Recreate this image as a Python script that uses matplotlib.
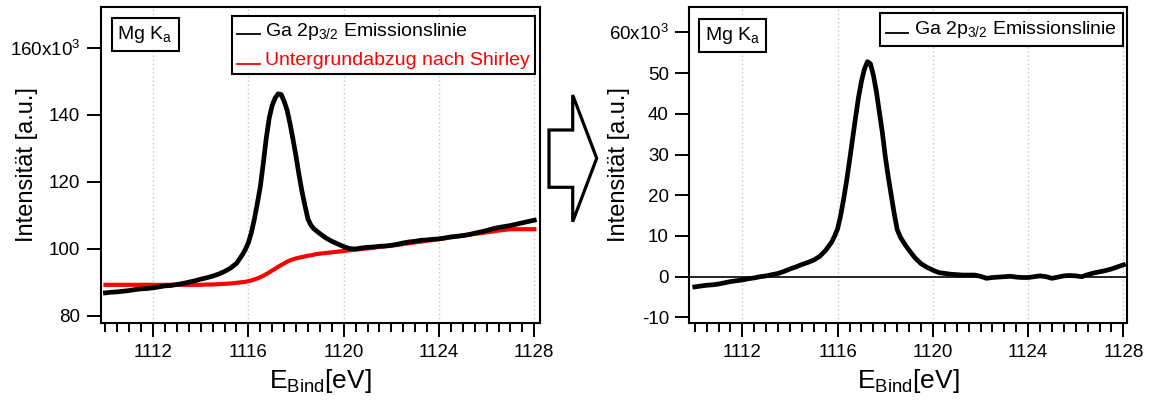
import matplotlib
matplotlib.use("Agg")
import matplotlib.pyplot as plt
from matplotlib.patches import Polygon
from matplotlib.lines import Line2D
from matplotlib.legend_handler import HandlerLine2D
from matplotlib.ticker import FixedLocator, MultipleLocator

plt.rcParams['font.family'] = ['Liberation Sans', 'DejaVu Sans']
plt.rcParams['mathtext.fontset'] = 'custom'
plt.rcParams['mathtext.rm'] = 'Liberation Sans'
plt.rcParams['mathtext.it'] = 'Liberation Sans:italic'
plt.rcParams['mathtext.bf'] = 'Liberation Sans:bold'

# ---------------- data ----------------
energy_eV = [
    1110.00, 1110.25, 1110.50, 1110.75, 1111.00, 1111.25, 1111.50, 1111.75,
    1112.00, 1112.25, 1112.50, 1112.75, 1113.00, 1113.25, 1113.50, 1113.75,
    1114.00, 1114.25, 1114.50, 1114.75, 1115.00, 1115.25, 1115.50, 1115.75,
    1115.875, 1116.00, 1116.125, 1116.25, 1116.375, 1116.50, 1116.625, 1116.75,
    1116.875, 1117.00, 1117.125, 1117.25, 1117.375, 1117.50, 1117.625, 1117.75,
    1117.875, 1118.00, 1118.125, 1118.25, 1118.375, 1118.50, 1118.625, 1118.75,
    1118.875, 1119.00, 1119.25, 1119.50, 1119.75,
    1120.00, 1120.25, 1120.50, 1120.75, 1121.00, 1121.25, 1121.50, 1121.75,
    1122.00, 1122.25, 1122.50, 1122.75, 1123.00, 1123.25, 1123.50, 1123.75,
    1124.00, 1124.25, 1124.50, 1124.75, 1125.00, 1125.25, 1125.50, 1125.75,
    1126.00, 1126.25, 1126.50, 1126.75, 1127.00, 1127.25, 1127.50, 1127.75,
    1128.00,
]

# raw Ga 2p3/2 emission line, intensity in 10^3 a.u.
raw_intensity = [
    86.8, 87.0, 87.1, 87.3, 87.5, 87.8, 88.0, 88.1,
    88.3, 88.6, 88.9, 89.0, 89.3, 89.6, 90.0, 90.4,
    90.9, 91.3, 91.8, 92.4, 93.2, 94.2, 95.6, 98.2,
    99.8, 101.8, 104.8, 108.8, 113.5, 118.5, 125.5, 133.0,
    139.0, 142.8, 145.0, 146.2, 146.0, 144.0, 141.3, 137.2,
    132.5, 127.5, 122.0, 117.0, 112.8, 108.8, 107.0, 105.9,
    105.2, 104.5, 103.2, 102.2, 101.4,
    100.6, 100.0, 99.9, 100.2, 100.4, 100.5, 100.7, 100.8,
    101.0, 101.3, 101.7, 102.0, 102.2, 102.5, 102.6, 102.8,
    102.9, 103.2, 103.5, 103.7, 103.9, 104.2, 104.6, 105.0,
    105.4, 105.9, 106.3, 106.6, 106.9, 107.3, 107.7, 108.1,
    108.5,
]

# Shirley background, intensity in 10^3 a.u.
shirley_background = [
    89.2, 89.2, 89.2, 89.2, 89.2, 89.2, 89.2, 89.2,
    89.2, 89.2, 89.2, 89.2, 89.2, 89.2, 89.2, 89.2,
    89.2, 89.3, 89.3, 89.4, 89.5, 89.6, 89.8, 90.0,
    90.1, 90.3, 90.5, 90.8, 91.1, 91.5, 91.9, 92.4,
    92.9, 93.5, 94.0, 94.6, 95.1, 95.6, 96.1, 96.5,
    96.8, 97.1, 97.3, 97.5, 97.7, 97.9, 98.0, 98.2,
    98.4, 98.5, 98.7, 98.9, 99.1,
    99.3, 99.5, 99.7, 99.9, 100.1, 100.3, 100.5, 100.7,
    100.9, 101.1, 101.4, 101.6, 101.9, 102.1, 102.4, 102.6,
    102.9, 103.1, 103.4, 103.6, 103.9, 104.1, 104.4, 104.6,
    104.9, 105.1, 105.4, 105.6, 105.8, 105.8, 105.8, 105.8,
    105.8,
]

# background-subtracted emission line, intensity in 10^3 a.u.
corrected_intensity = [
    -2.5, -2.3, -2.1, -2.0, -1.8, -1.5, -1.2, -1.0,
    -0.8, -0.5, -0.3, 0.0, 0.2, 0.5, 0.8, 1.3,
    1.9, 2.4, 3.0, 3.5, 4.1, 5.0, 6.5, 8.5,
    10.0, 11.8, 15.0, 19.0, 23.5, 28.5, 33.8, 39.0,
    44.0, 48.0, 51.0, 52.8, 52.3, 49.5, 45.5, 40.5,
    35.5, 29.5, 24.5, 20.0, 15.5, 11.6, 9.8, 8.6,
    7.5, 6.5, 4.6, 3.2, 2.3,
    1.6, 1.0, 0.8, 0.6, 0.5, 0.4, 0.4, 0.4,
    0.1, -0.4, -0.2, -0.1, 0.0, 0.1, -0.1, -0.2,
    -0.2, 0.0, 0.2, 0.0, -0.4, -0.1, 0.2, 0.3,
    0.2, 0.0, 0.5, 0.9, 1.2, 1.5, 1.9, 2.4,
    2.9,
]

x_ticks = [1112, 1116, 1120, 1124, 1128]
x_tick_labels = ['1112', '1116', '1120', '1124', '1128']
left_y_ticks = [80, 100, 120, 140, 160]
left_y_tick_labels = ['80', '100', '120', '140', r'160x10$^{3}$']
right_y_ticks = [-10, 0, 10, 20, 30, 40, 50, 60]
right_y_tick_labels = ['-10', '0', '10', '20', '30', '40', '50', r'60x10$^{3}$']

label_raw = r'Ga 2p$_{3/2}$ Emissionslinie'
label_bg = 'Untergrundabzug nach Shirley'
source_label = r'Mg K$_{\mathrm{a}}$'
x_label = r'E$_{\mathrm{Bind}}$[eV]'
y_label = 'Intensität [a.u.]'

# ---------------- figure ----------------
W, H = 1153, 403
fig = plt.figure(figsize=(W / 100, H / 100), dpi=100)


def px_rect(x0, y0, x1, y1):
    return [x0 / W, 1 - y1 / H, (x1 - x0) / W, (y1 - y0) / H]


ax1 = fig.add_axes(px_rect(100.7, 6.7, 540.0, 322.7))
ax2 = fig.add_axes(px_rect(689.3, 6.7, 1126.5, 322.7))

TICK_FS = 13.5
LEG_FS = 14


class BaselineHandler(HandlerLine2D):
    def create_artists(self, legend, orig_handle, xdescent, ydescent,
                       width, height, fontsize, trans):
        arts = super().create_artists(legend, orig_handle, xdescent, ydescent,
                                      width, height, fontsize, trans)
        for a in arts:
            if isinstance(a, Line2D):
                a.set_ydata([y - 0.38 * height for y in a.get_ydata()])
        return arts


def style_axes(ax, xlim, ylim, yticks, ylabels, ylab_x):
    ax.set_xlim(*xlim)
    ax.set_ylim(*ylim)
    ax.xaxis.set_major_locator(FixedLocator(x_ticks))
    ax.set_xticklabels(x_tick_labels)
    ax.xaxis.set_minor_locator(MultipleLocator(0.5))
    ax.set_yticks(yticks)
    ax.set_yticklabels(ylabels)
    ax.tick_params(axis='both', which='major', direction='out', length=10.4,
                   width=1.4, labelsize=TICK_FS, colors='black')
    ax.tick_params(axis='x', which='minor', direction='out', length=6.2, width=1.4)
    ax.tick_params(axis='y', which='major', pad=4.3)
    ax.tick_params(axis='x', which='major', pad=5)
    for s in ax.spines.values():
        s.set_linewidth(1.5)
        s.set_color('black')
    ax.set_axisbelow(True)
    ax.grid(axis='x', which='major', color='#c4c4c4', linestyle=(0, (1, 2)),
            linewidth=1.0)
    ax.set_xlabel(x_label, fontsize=19)
    ax.xaxis.label.set_verticalalignment('baseline')
    ax.xaxis.set_label_coords(0.5, -0.2066)
    ax.set_ylabel(y_label, fontsize=17)
    ax.yaxis.label.set_verticalalignment('center')
    ax.yaxis.set_label_coords(ylab_x, 0.5)


# ---- left panel ----
ax1.plot(energy_eV, raw_intensity, color='black', lw=3.4, solid_joinstyle='round', zorder=3)
ax1.plot(energy_eV, shirley_background, color='#ff0000', lw=3.0, zorder=2)
style_axes(ax1, (1109.8, 1128.24), (77.9, 172.2), left_y_ticks, left_y_tick_labels,
           (27 - 100.7) / 439.3)

h_raw = Line2D([], [], color='black', lw=1.3)
h_bg = Line2D([], [], color='#ff0000', lw=1.3)
leg1 = ax1.legend([h_raw, h_bg], [label_raw, label_bg], loc='upper right',
                  bbox_to_anchor=((535 - 100.7) / 439.3, (322.7 - 16) / 316),
                  borderaxespad=0, fontsize=LEG_FS, frameon=True, fancybox=False,
                  edgecolor='black', framealpha=1, borderpad=0.25, labelspacing=0.5,
                  handlelength=1.15, handletextpad=0.3,
                  handler_map={Line2D: BaselineHandler()})
leg1.get_frame().set_linewidth(1.5)
leg1.get_texts()[1].set_color('#ff0000')

ax1.text((117.5 - 100.7) / 439.3, (322.7 - 24.1) / 316, source_label,
         transform=ax1.transAxes, ha='left', va='top', fontsize=LEG_FS,
         bbox=dict(boxstyle='square,pad=0.3', facecolor='white', edgecolor='black',
                   linewidth=1.5))

# ---- right panel ----
ax2.axhline(0, color='black', lw=1.2, zorder=2)
ax2.plot(energy_eV, corrected_intensity, color='black', lw=3.4, solid_joinstyle='round', zorder=3)
style_axes(ax2, (1109.77, 1128.13), (-11.3, 66.3), right_y_ticks, right_y_tick_labels,
           (619 - 689.3) / 437.2)

h_corr = Line2D([], [], color='black', lw=1.3)
leg2 = ax2.legend([h_corr], [label_raw], loc='upper right',
                  bbox_to_anchor=((1122.7 - 689.3) / 437.2, (322.7 - 13.3) / 316),
                  borderaxespad=0, fontsize=LEG_FS, frameon=True, fancybox=False,
                  edgecolor='black', framealpha=1, borderpad=0.3,
                  handlelength=1.15, handletextpad=0.3,
                  handler_map={Line2D: BaselineHandler()})
leg2.get_frame().set_linewidth(1.5)

ax2.text((705.1 - 689.3) / 437.2, (322.7 - 25.1) / 316, source_label,
         transform=ax2.transAxes, ha='left', va='top', fontsize=LEG_FS,
         bbox=dict(boxstyle='square,pad=0.3', facecolor='white', edgecolor='black',
                   linewidth=1.5))

# ---- block arrow between the panels ----
arrow_px = [(549, 130), (572.7, 130), (572.7, 95), (596.7, 158.3),
            (572.7, 221.7), (572.7, 187.3), (549, 187.3)]
arrow = Polygon([(x / W, 1 - y / H) for x, y in arrow_px], closed=True,
                transform=fig.transFigure, facecolor='white', edgecolor='black',
                linewidth=2.3, joinstyle='miter')
fig.patches.append(arrow)

fig.savefig('out.png', dpi=100)
